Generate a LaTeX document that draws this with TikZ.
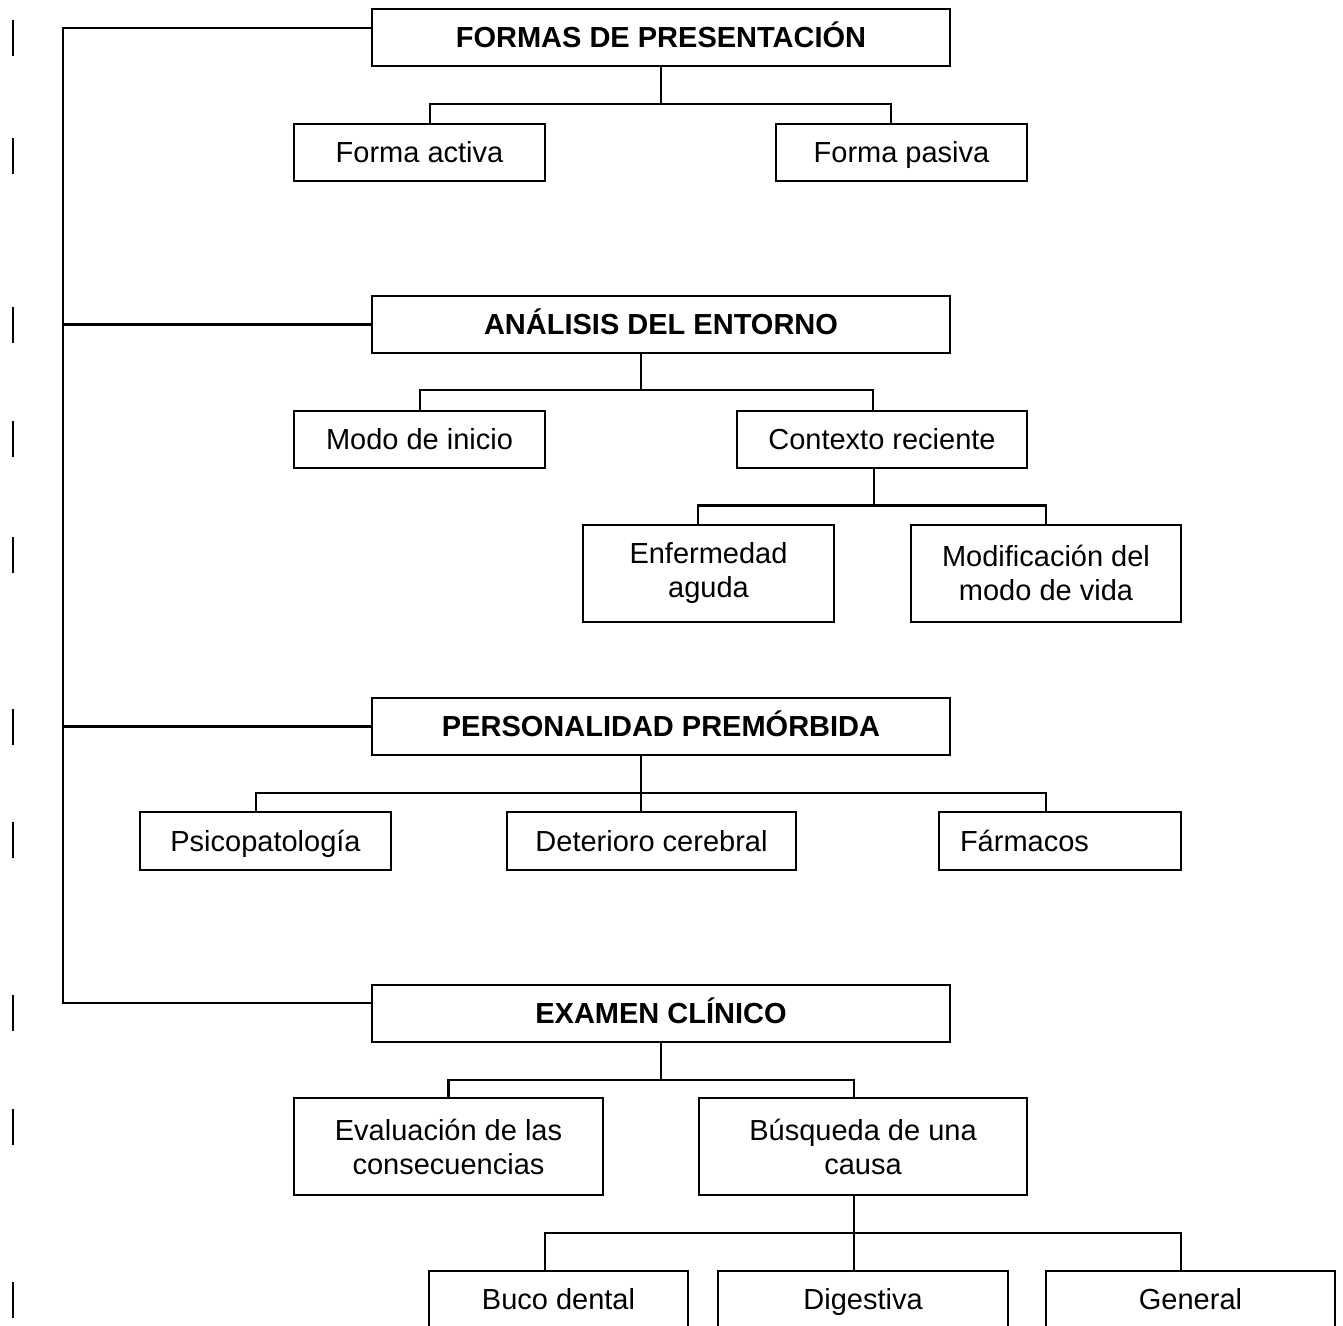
\documentclass[tikz,border=0pt]{standalone}
\usepackage{fontspec}
\setmainfont{Liberation Sans}
\usetikzlibrary{calc}
\begin{document}
\begin{tikzpicture}[x=1pt,y=-1pt,
  every node/.style={font=\fontsize{29}{34}\selectfont},
  box/.style={draw=black,line width=2pt,inner sep=0pt,outer sep=0pt,minimum height=57pt,align=center,fill=white},
  onebox/.style={box,text height=25pt,text depth=4.5pt},
  mainbox/.style={onebox,minimum width=578pt,font=\fontsize{29}{34}\selectfont\bfseries},
  tallbox/.style={box,minimum height=97pt},
  conn/.style={line width=2.1pt},
  marginmark/.style={line width=2.6pt}]
\useasboundingbox[fill=white] (0,0) rectangle (1343,1325);

% left margin marks
\foreach \c in {38,156,325,439,555,727,840,1013,1127,1300}
  \draw[marginmark] (13,\c-18) -- (13,\c+18);

% main boxes
\node[mainbox] (formas) at (661,37.5) {FORMAS DE PRESENTACIÓN};
\node[mainbox] (analisis) at (661,324.5) {ANÁLISIS DEL ENTORNO};
\node[mainbox] (personalidad) at (661,726.5) {PERSONALIDAD PREMÓRBIDA};
\node[mainbox] (examen) at (661,1013.5) {EXAMEN CLÍNICO};

% level 2
\node[onebox,minimum width=251pt] (activa) at (419.5,152.5) {Forma activa};
\node[onebox,minimum width=251pt] (pasiva) at (901.5,152.5) {Forma pasiva};
\node[onebox,minimum width=251pt] (modo) at (419.5,439.5) {Modo de inicio};
\node[onebox,minimum width=290pt] (contexto) at (882,439.5) {Contexto reciente};
\node[tallbox,minimum width=251pt] (enfermedad) at (708.5,573) {Enfermedad\\aguda};
\node[tallbox,minimum width=270pt] (modificacion) at (1046,573) {Modificación del\\modo de vida};
\node[onebox,minimum width=251pt,minimum height=58pt] (psico) at (265.5,841) {Psicopatología};
\node[onebox,minimum width=289pt,minimum height=58pt] (deterioro) at (651.5,841) {Deterioro cerebral};
\node[onebox,minimum height=58pt,text width=200pt,align=left,inner xsep=21pt] (farmacos) at (1060,841) {Fármacos};
\node[tallbox,minimum width=309pt] (evaluacion) at (448.5,1146.5) {Evaluación de las\\consecuencias};
\node[tallbox,minimum width=328pt] (busqueda) at (863,1146.5) {Búsqueda de una\\causa};
\node[onebox,minimum width=259pt] (buco) at (558.5,1299.5) {Buco dental};
\node[onebox,minimum width=290pt] (digestiva) at (863,1299.5) {Digestiva};
\node[onebox,minimum width=289pt] (general) at (1190.5,1299.5) {General};

% spine
\coordinate (s1) at (63,28);
\coordinate (s4) at (63,1003);
\draw[conn] ([yshift=9.5pt]formas.west) -- (s1) -- (s4) -- ([yshift=10.5pt]examen.west);
\draw[conn] (analisis.west) -- (analisis.west -| s1);
\draw[conn] (personalidad.west) -- (personalidad.west -| s1);

% formas
\draw[conn] (formas.south) -- ++(0,38);
\draw[conn] ([xshift=10.5pt]activa.north) -- ++(0,-20) -| ([xshift=-10.5pt]pasiva.north);

% analisis
\draw[conn] ([xshift=-20pt]analisis.south) -- ++(0,37.5);
\draw[conn] ([xshift=0.5pt]modo.north) -- ++(0,-21) -| ([xshift=-9pt]contexto.north);

% contexto
\draw[conn] ([xshift=-8pt]contexto.south) -- ++(0,38);
\draw[conn] ([xshift=-10.5pt]enfermedad.north) -- ++(0,-19) -| (modificacion.north);

% personalidad
\draw[conn] ([xshift=-20pt]personalidad.south) -- ([xshift=-10.5pt]deterioro.north);
\draw[conn] ([xshift=-9.5pt]psico.north) -- ++(0,-19) -| ([xshift=-14pt]farmacos.north);

% examen
\draw[conn] (examen.south) -- ++(0,38);
\draw[conn] (evaluacion.north) -- ++(0,-18) -| ([xshift=-9pt]busqueda.north);

% busqueda
\draw[conn] ([xshift=-9pt]busqueda.south) -- ([xshift=-9pt]digestiva.north);
\draw[conn] ([xshift=-13.5pt]buco.north) -- ++(0,-38) -| ([xshift=-9.5pt]general.north);
\end{tikzpicture}
\end{document}
